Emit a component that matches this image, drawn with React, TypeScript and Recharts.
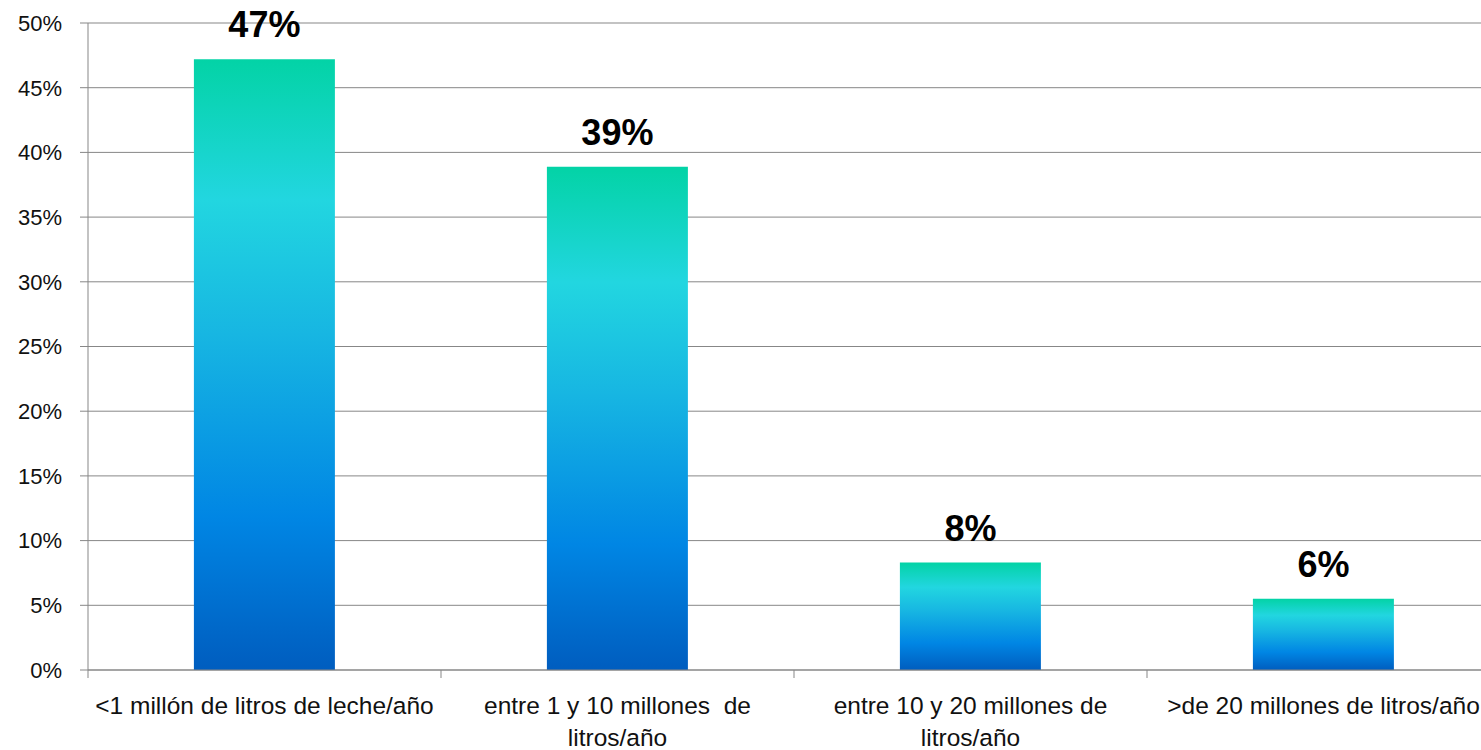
import React from "react";
import { BarChart, Bar, XAxis, YAxis, CartesianGrid, LabelList } from "recharts";

const categories = [
  "<1 millón de litros de leche/año",
  "entre 1 y 10 millones  de litros/año",
  "entre 10 y 20 millones de litros/año",
  ">de 20 millones de litros/año",
];
const tickLines: string[][] = [
  ["<1 millón de litros de leche/año"],
  ["entre 1 y 10 millones  de", "litros/año"],
  ["entre 10 y 20 millones de", "litros/año"],
  [">de 20 millones de litros/año"],
];
const values = [47.2, 38.9, 8.3, 5.5];
const valueLabels = ["47%", "39%", "8%", "6%"];
const yTicks = [0, 5, 10, 15, 20, 25, 30, 35, 40, 45, 50];

const data = categories.map((c, i) => ({ name: c, value: values[i], label: valueLabels[i] }));

if (typeof document !== "undefined") {
  document.body.style.margin = "0";
}

const W = 1500;
const H = 750;
const Y_W = 88;
const FONT = "'Liberation Sans', Arial, sans-serif";
const HALF = (W - Y_W) / categories.length / 2;
const GRAY = "#878787";

const XTick = (props: any) => {
  const { x, y, index } = props;
  const lines = tickLines[index] || [];
  return (
    <g>
      <line x1={x - HALF} x2={x - HALF} y1={y} y2={y + 8} stroke={GRAY} strokeWidth={1} />
      {lines.map((l, i) => (
        <text
          key={i}
          x={x}
          y={y + 44 + i * 32}
          textAnchor="middle"
          fontSize={24.5}
          fontFamily={FONT}
          fill="#111"
          style={{ whiteSpace: "pre" }}
        >
          {l}
        </text>
      ))}
    </g>
  );
};

export default function App() {
  return (
    <div style={{ width: 1481, height: 750, overflow: "hidden", background: "#fff" }}>
      <BarChart
        width={W}
        height={H}
        data={data}
        margin={{ top: 23, right: 0, bottom: 0, left: 0 }}
        barCategoryGap="30%"
      >
        <defs>
          <linearGradient id="barGrad" x1="0" y1="0" x2="0" y2="1">
            <stop offset="0%" stopColor="#03D3A6" />
            <stop offset="23%" stopColor="#22D6E0" />
            <stop offset="45%" stopColor="#17B6E2" />
            <stop offset="75%" stopColor="#0086E4" />
            <stop offset="100%" stopColor="#005DBF" />
          </linearGradient>
        </defs>
        <CartesianGrid vertical={false} stroke={GRAY} strokeWidth={1} />
        <XAxis
          dataKey="name"
          height={80}
          tickLine={false}
          tickSize={0}
          tickMargin={0}
          axisLine={{ stroke: GRAY }}
          tick={<XTick />}
          interval={0}
        />
        <YAxis
          width={Y_W}
          domain={[0, 50]}
          ticks={yTicks}
          tickFormatter={(v: number) => `${v}%`}
          axisLine={{ stroke: GRAY }}
          tickLine={{ stroke: GRAY }}
          tickSize={8}
          tickMargin={18}
          tick={{ fontSize: 22, fontFamily: FONT, fill: "#111" }}
        />
        <Bar dataKey="value" fill="url(#barGrad)" isAnimationActive={false}>
          <LabelList
            dataKey="label"
            position="top"
            offset={22}
            style={{ fontSize: 36, fontWeight: 700, fontFamily: FONT, fill: "#000" }}
          />
        </Bar>
      </BarChart>
    </div>
  );
}
